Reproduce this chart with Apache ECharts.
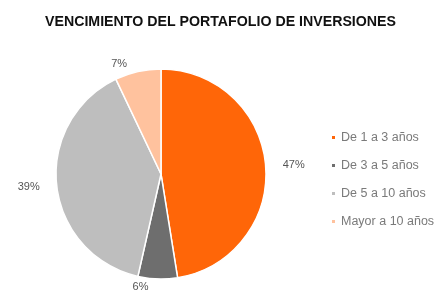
<!DOCTYPE html>
<html>
<head>
<meta charset="utf-8">
<script src="https://cdn.jsdelivr.net/npm/echarts@6/dist/echarts.min.js"></script>
<style>
  html, body { margin: 0; padding: 0; background: #fff; }
  #chart { width: 441px; height: 308px; }
</style>
</head>
<body>
<div id="chart"></div>
<script>
  // datos del gráfico
  var categorias = ['De 1 a 3 años', 'De 3 a 5 años', 'De 5 a 10 años', 'Mayor a 10 años'];
  var valores = [47, 6, 39, 7];
  var colores = ['#FF6608', '#6E6E6E', '#BEBEBE', '#FFC29E'];

  var myChart = echarts.init(document.getElementById('chart'));
  var option = {
    color: colores,
    title: {
      text: 'VENCIMIENTO DEL PORTAFOLIO DE INVERSIONES',
      left: 'center',
      top: 10,
      textStyle: { fontSize: 14.2, fontWeight: 'bold', color: '#111', fontFamily: 'Liberation Sans' }
    },
    legend: {
      orient: 'vertical',
      left: 325,
      top: 126,
      itemGap: 15,
      itemWidth: 5,
      itemHeight: 5,
      icon: 'rect',
      textStyle: { fontSize: 12.5, color: '#7a7a7a', fontFamily: 'Liberation Sans' },
      data: categorias
    },
    series: [{
      type: 'pie',
      center: [161, 174],
      radius: 105,
      startAngle: 90,
      clockwise: true,
      avoidLabelOverlap: false,
      itemStyle: { borderColor: '#fff', borderWidth: 1.5 },
      label: {
        show: true,
        position: 'outside',
        formatter: '{c}%',
        fontSize: 11,
        color: '#555',
        fontFamily: 'Liberation Sans'
      },
      labelLine: { show: false, length: 8, length2: 4 },
      data: categorias.map(function (n, i) { return { name: n, value: valores[i] }; })
    }]
  };
  myChart.setOption(option, true);
</script>
</body>
</html>
